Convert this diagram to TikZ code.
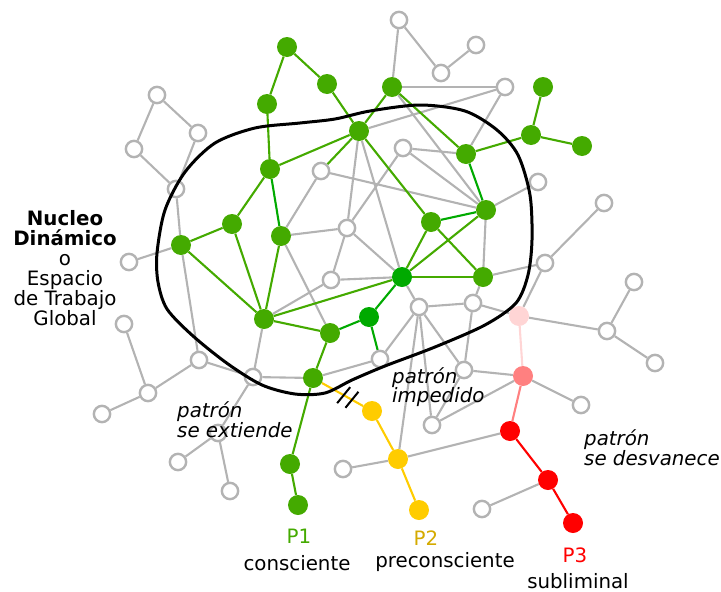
\documentclass[tikz,border=0pt]{standalone}
\usepackage{fontspec}
\setmainfont{DejaVu Sans}
\usetikzlibrary{backgrounds,calc}
\definecolor{gr}{HTML}{B3B3B3}
\definecolor{grn}{HTML}{44AA00}
\definecolor{dgrn}{HTML}{00AA00}
\definecolor{yel}{HTML}{FFCC00}
\definecolor{gold}{HTML}{D4AA00}
\definecolor{lpink}{HTML}{FFD5D5}
\definecolor{mpink}{HTML}{FF8080}
\definecolor{red}{HTML}{FF0000}
\begin{document}
\begin{tikzpicture}[x=1pt,y=-1pt,
  wn/.style={circle,draw=gr,fill=white,line width=2.4pt,minimum size=16.3pt,inner sep=0pt},
  fn/.style={circle,fill=#1,minimum size=20pt,inner sep=0pt},
  ge/.style={draw=gr,line width=2.1pt},
  ce/.style={draw=#1,line width=2.1pt},
  lbl/.style={font=\fontsize{19.8}{20}\selectfont,inner sep=0pt},
  itl/.style={font=\fontsize{19.8}{20}\selectfont\itshape,inner sep=0pt,anchor=base west},
]
\useasboundingbox (0,0) rectangle (721,592);
% green nodes
\node[fn=grn] (g1) at (287,47) {};
\node[fn=grn] (g2) at (327,84) {};
\node[fn=grn] (g3) at (267,104) {};
\node[fn=grn] (g4) at (359,131) {};
\node[fn=grn] (g5) at (392,87) {};
\node[fn=grn] (g6) at (270,169) {};
\node[fn=grn] (g7) at (232,224) {};
\node[fn=grn] (g8) at (181,245) {};
\node[fn=grn] (g9) at (281,236) {};
\node[fn=grn] (g10) at (466,154) {};
\node[fn=grn] (g11) at (531,135) {};
\node[fn=grn] (g12) at (543,87) {};
\node[fn=grn] (g13) at (582,146) {};
\node[fn=grn] (g14) at (486,210) {};
\node[fn=grn] (g15) at (431,222) {};
\node[fn=grn] (g16) at (483,277) {};
\node[fn=dgrn] (g17) at (402,277) {};
\node[fn=dgrn] (g18) at (369,317) {};
\node[fn=grn] (g19) at (264,319) {};
\node[fn=grn] (g20) at (330,333) {};
\node[fn=grn] (g21) at (313,378) {};
\node[fn=grn] (g22) at (290,464) {};
\node[fn=grn] (g23) at (298,505) {};
% hollow nodes
\node[wn] (w1) at (399,20) {};
\node[wn] (w2) at (441,73) {};
\node[wn] (w3) at (476,45) {};
\node[wn] (w4) at (505,87) {};
\node[wn] (w5) at (157,95) {};
\node[wn] (w6) at (198,133) {};
\node[wn] (w7) at (134,149) {};
\node[wn] (w8) at (176,189) {};
\node[wn] (w9) at (403,148) {};
\node[wn] (w10) at (321,171) {};
\node[wn] (w11) at (538,182) {};
\node[wn] (w12) at (604,203) {};
\node[wn] (w13) at (347,228) {};
\node[wn] (w14) at (129,262) {};
\node[wn] (w15) at (331,280) {};
\node[wn] (w16) at (545,263) {};
\node[wn] (w17) at (634,282) {};
\node[wn] (w18) at (419,307) {};
\node[wn] (w19) at (473,303) {};
\node[wn] (w20) at (124,324) {};
\node[wn] (w21) at (607,331) {};
\node[wn] (w22) at (655,363) {};
\node[wn] (w23) at (199,360) {};
\node[wn] (w24) at (253,377) {};
\node[wn] (w25) at (380,359) {};
\node[wn] (w26) at (148,393) {};
\node[wn] (w27) at (102,414) {};
\node[wn] (w28) at (464,370) {};
\node[wn] (w29) at (432,425) {};
\node[wn] (w30) at (581,405) {};
\node[wn] (w31) at (218,433) {};
\node[wn] (w32) at (178,462) {};
\node[wn] (w33) at (230,491) {};
\node[wn] (w34) at (343,469) {};
\node[wn] (w35) at (482,509) {};
% coloured pattern nodes
\node[fn=lpink] (pk1) at (519,316) {};
\node[fn=mpink] (pk2) at (523,376) {};
\node[fn=red] (r1) at (510,431) {};
\node[fn=red] (r2) at (548,480) {};
\node[fn=red] (r3) at (573,523) {};
\node[fn=yel] (y1) at (372,411) {};
\node[fn=yel] (y2) at (398,459) {};
\node[fn=yel] (y3) at (419,510) {};
\begin{pgfonlayer}{background}
\foreach \a/\b in {w1/g5,w1/w2,w2/w3,g5/w4,g4/w4,w4/g10,g5/g14,w9/g10,w9/g14,w9/w13,
  w10/g14,w10/g9,g9/w13,g4/w13,g4/g17,w13/w15,w13/g17,w15/g17,w15/g19,g9/g20,w14/g8,
  w5/w6,w5/w7,w7/w8,w6/w8,w8/g8,g8/w23,w20/w26,w26/w27,w26/w23,w23/w24,g19/w24,w24/g21,
  w24/w31,w31/w32,w31/w33,g21/w25,w25/w18,g17/w18,w18/w19,w18/y2,w18/w29,w18/w28,
  g16/w19,g16/w16,w19/w28,w19/pk1,w28/pk2,w28/w29,w29/pk2,y2/r1,y2/w34,pk1/w21,
  w21/w17,w21/w22,pk2/w30,r2/w35,w16/w12,w16/pk1,g14/w11,g14/g16}
  \draw[ge] (\a) -- (\b);
\foreach \a/\b in {g1/g3,g1/g2,g2/g4,g3/g6,g4/g5,g4/g6,g4/w10,g6/g7,g7/g8,g7/g19,g8/g19,
  g9/g19,g4/g15,g5/g10,g10/g11,g11/g12,g11/g13,g14/g17,g15/g17,g15/g16,g17/g16,g17/g19,
  g19/g20,g20/g21,g21/g22,g22/g23}
  \draw[ce=grn] (\a) -- (\b);
\foreach \a/\b in {g6/g9,g10/g14,g14/g15,g17/g18,g18/g20,g18/w25}
  \draw[ce=dgrn] (\a) -- (\b);
\foreach \a/\b in {g21/y1,y1/y2,y2/y3}
  \draw[ce=yel] (\a) -- (\b);
\draw[ce=lpink] (pk1) -- (pk2);
\draw[ce=mpink] (pk2) -- (r1);
\draw[ce=red] (r1) -- (r2);
\draw[ce=red] (r2) -- (r3);
\end{pgfonlayer}
% break marks on the impeded pattern
\draw[line width=2pt] ($(g21)!0.52!(y1)$) ++(-6.5,8) -- ++(13,-16);
\draw[line width=2pt] ($(g21)!0.66!(y1)$) ++(-6.5,8) -- ++(13,-16);
% dynamic core boundary
\draw[line width=3pt] plot[smooth cycle] coordinates {
  (157,253) (165,210) (185,172) (215,143) (255,128) (300,123) (335,119) (370,111)
  (420,105) (465,111) (497,130) (518,155) (530,195) (532,240) (528,275) (516,303)
  (485,325) (435,347) (385,366) (352,380) (325,393) (295,394) (262,385) (228,364)
  (193,336) (167,309) (158,282)};
% labels
\node[lbl,anchor=base,align=center] (core) at (65,325)
  {\textbf{Nucleo}\\\textbf{Dinámico}\\o\\Espacio\\de Trabajo\\Global};
\node[itl] (t1a) at (177,417) {patrón};
\node[itl] (t1b) at (177,437) {se extiende};
\node[itl] (t2a) at (392,383) {patrón};
\node[itl] (t2b) at (392,402) {impedido};
\node[itl] (t3a) at (584,445) {patrón};
\node[itl] (t3b) at (584,465) {se desvanece};
\node[lbl,anchor=base,text=grn] (p1) at (299,543) {P1};
\node[lbl,anchor=base] (p1b) at (297,570) {consciente};
\node[lbl,anchor=base,text=gold] (p2) at (426,545) {P2};
\node[lbl,anchor=base] (p2b) at (445,567) {preconsciente};
\node[lbl,anchor=base,text=red] (p3) at (575,562) {P3};
\node[lbl,anchor=base] (p3b) at (578,588) {subliminal};
\end{tikzpicture}
\end{document}
